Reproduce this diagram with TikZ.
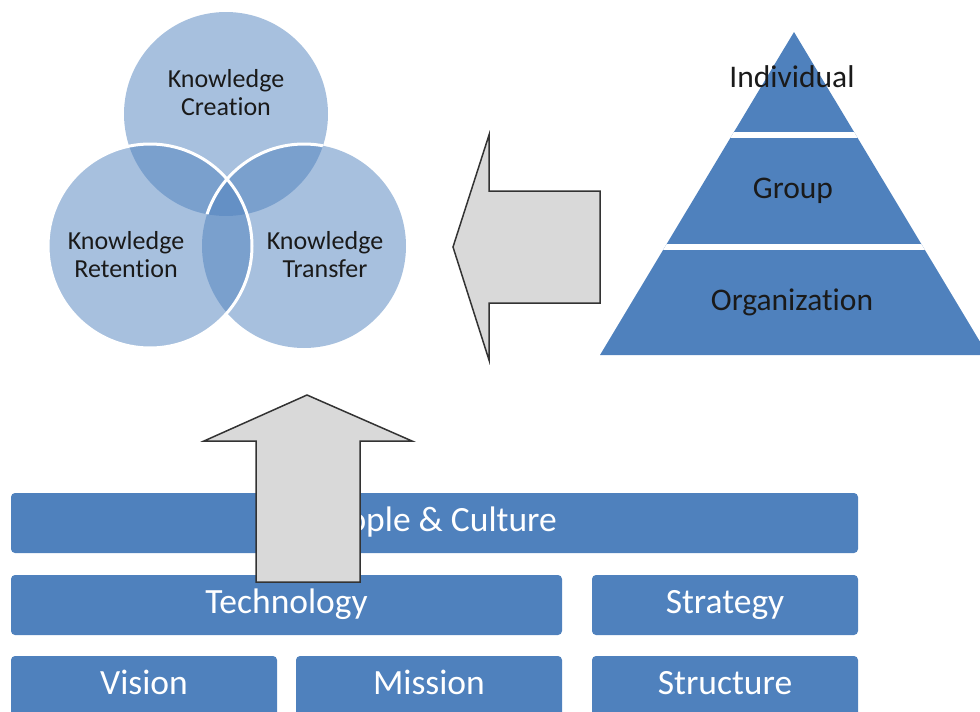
\documentclass[tikz,border=0pt]{standalone}
\usepackage{fontspec}
\setmainfont{Carlito}[Ligatures=NoCommon]
\definecolor{boxblue}{RGB}{79,129,189}
\definecolor{arrowgray}{RGB}{217,217,217}
\definecolor{txtdark}{RGB}{26,26,26}

\begin{document}
\begin{tikzpicture}[x=1pt,y=-1pt,
    venn/.style={circle,minimum size=204pt,inner sep=0pt,fill=boxblue,fill opacity=0.5},
    venntext/.style={align=center,text=txtdark,font=\fontsize{26}{28}\selectfont},
    block/.style={fill=boxblue,rounded corners=4pt,text=white,font=\fontsize{35.5}{40}\selectfont,
        inner sep=0pt,minimum height=60pt,text height=23pt,text depth=7pt},
    tier/.style={text=txtdark,font=\fontsize{31.5}{36}\selectfont},
    bigarrow/.style={fill=arrowgray,draw=black!80,line width=1.5pt,line join=miter}
  ]
\useasboundingbox (0,0) rectangle (980,712);
\clip (0,0) rectangle (980,712);

% three circles
\node[venn] (creation) at (226,114) {};
\node[venn] (transfer) at (304,246) {};
\node[venn] (retention) at (150,246) {};
\begin{scope}
  \clip (creation.center) circle (102pt);
  \draw[white,line width=3pt] (transfer.center) circle (102pt);
\end{scope}
\draw[white,line width=3pt] (retention.center) circle (102pt);
\node[venntext] (creationtext) at (226,93) {Knowledge\\Creation};
\node[venntext] (retentiontext) at (126,255) {Knowledge\\Retention};
\node[venntext] (transfertext) at (325,255) {Knowledge\\Transfer};

% pyramid
\begin{scope}
  \clip (794,32) -- (600,355) -- (988,355) -- cycle;
  \fill[boxblue] (590,20) rectangle (995,360);
  \draw[white,line width=6pt] (590,135) -- (995,135) (590,246.5) -- (995,246.5);
\end{scope}
\node[tier] (individual) at (792,77) {Individual};
\node[tier] (group) at (793,191) {Group};
\node[tier] (organization) at (792,302) {Organization};

\draw[bigarrow] (453,247) -- (489,135) -- (489,191) -- (600,191) -- (600,303)
  -- (489,303) -- (489,360) -- cycle;

% foundation blocks
\node[block,minimum width=847pt] (people) at (434.5,523) {People \& Culture};
\node[block,minimum width=551pt] (technology) at (286.5,605) {Technology};
\node[block,minimum width=266pt] (strategy) at (725,605) {Strategy};
\node[block,minimum width=266pt] (vision) at (144,686) {Vision};
\node[block,minimum width=266pt] (mission) at (429,686) {Mission};
\node[block,minimum width=266pt] (structure) at (725,686) {Structure};

\draw[bigarrow] (307,395) -- (412,441) -- (360,441) -- (360,582) -- (256,582)
  -- (256,441) -- (204,441) -- cycle;
\end{tikzpicture}
\end{document}
